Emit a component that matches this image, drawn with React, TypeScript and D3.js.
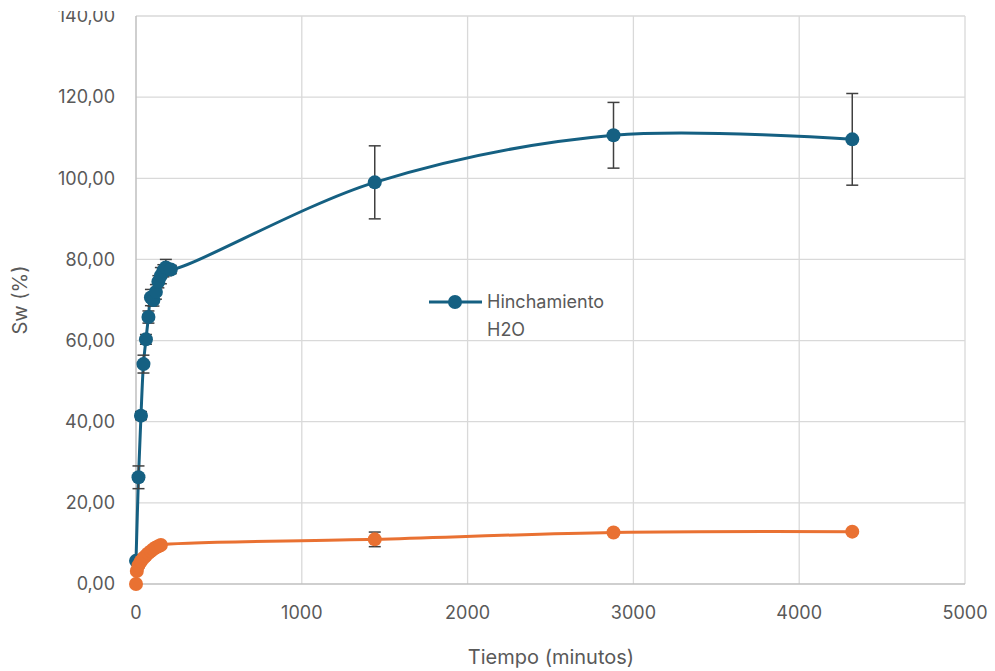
import React, { useEffect, useRef } from 'react';
import * as d3 from 'd3';

// tiempo (minutos)
const blueTime = [0, 15, 30, 45, 60, 75, 90, 105, 120, 135, 150, 165, 180, 210];
const blueTimeLong = [1440, 2880, 4320];
const blueSw = [5.7, 26.3, 41.5, 54.2, 60.3, 65.8, 70.6, 70.0, 72.0, 74.5, 76.0, 77.2, 78.0, 77.5, 99.0, 110.6, 109.6];
const blueErr = [0.5, 2.8, 1.0, 2.2, 1.2, 1.5, 2.0, 1.5, 1.8, 1.5, 2.0, 1.5, 2.0, 1.0, 9.0, 8.1, 11.3];

const orangeTime = [0, 5, 15, 30, 45, 60, 75, 90, 105, 120, 135, 150, 1440, 2880, 4320];
const orangeSw = [0, 3.2, 4.6, 5.6, 6.4, 7.0, 7.6, 8.1, 8.6, 9.0, 9.3, 9.6, 11.0, 12.7, 12.9];
const orangeErr = [0, 0.5, 0.6, 0.6, 0.7, 0.6, 0.7, 0.6, 0.6, 0.7, 0.6, 0.6, 1.8, 0.5, 0.4];

const xTicks = [0, 1000, 2000, 3000, 4000, 5000];
const yTicks = [0, 20, 40, 60, 80, 100, 120, 140];

const legendLabel = ['Hinchamiento', 'H2O'];

const BLUE = '#156082';
const ORANGE = '#E97132';
const TEXT = '#595959';
const FONT = 'Inter, "Open Sans", sans-serif';

function App() {
  const ref = useRef<SVGSVGElement>(null);

  useEffect(() => {
    document.body.style.margin = '0';
    const svg = d3.select(ref.current);
    svg.selectAll('*').remove();

    const left = 136, right = 965, top = 16, bottom = 584;
    const x = d3.scaleLinear().domain([0, 5000]).range([left, right]);
    const y = d3.scaleLinear().domain([0, 140]).range([bottom, top]);

    svg.append('rect').attr('width', 995).attr('height', 671).attr('fill', '#fff');

    // the top of the picture is cut off, as in the original
    svg.append('clipPath').attr('id', 'cut').append('rect')
      .attr('x', 0).attr('y', 11).attr('width', 995).attr('height', 660);

    // grid
    svg.append('g').selectAll('line.h').data(yTicks.slice(1)).enter().append('line')
      .attr('x1', left).attr('x2', right)
      .attr('y1', d => y(d)).attr('y2', d => y(d))
      .attr('stroke', '#d9d9d9').attr('stroke-width', 1.3);
    svg.append('g').selectAll('line.v').data(xTicks.slice(1)).enter().append('line')
      .attr('y1', top).attr('y2', bottom)
      .attr('x1', d => x(d)).attr('x2', d => x(d))
      .attr('stroke', '#d9d9d9').attr('stroke-width', 1.3);
    // axes
    svg.append('line').attr('x1', left).attr('x2', left).attr('y1', top).attr('y2', bottom)
      .attr('stroke', '#bfbfbf').attr('stroke-width', 1.5);
    svg.append('line').attr('x1', left).attr('x2', right).attr('y1', bottom).attr('y2', bottom)
      .attr('stroke', '#bfbfbf').attr('stroke-width', 1.5);

    const fmt = (v: number) => v.toFixed(2).replace('.', ',');
    svg.append('g').attr('clip-path', 'url(#cut)')
      .selectAll('text').data(yTicks).enter().append('text')
      .attr('x', 115).attr('y', d => y(d)).attr('dy', '0.35em')
      .attr('text-anchor', 'end').attr('fill', TEXT)
      .attr('font-family', FONT).attr('font-size', 18)
      .text(d => fmt(d));
    svg.append('g').selectAll('text').data(xTicks).enter().append('text')
      .attr('x', d => x(d)).attr('y', 619)
      .attr('text-anchor', 'middle').attr('fill', TEXT)
      .attr('font-family', FONT).attr('font-size', 18)
      .text(d => String(d));

    svg.append('text').attr('x', 551).attr('y', 664).attr('text-anchor', 'middle')
      .attr('fill', TEXT).attr('font-family', FONT).attr('font-size', 20)
      .text('Tiempo (minutos)');
    svg.append('text').attr('transform', 'translate(27,300) rotate(-90)')
      .attr('text-anchor', 'middle').attr('fill', TEXT)
      .attr('font-family', FONT).attr('font-size', 20)
      .text('Sw (%)');

    const series = [
      { t: blueTime.concat(blueTimeLong), v: blueSw, e: blueErr, c: BLUE },
      { t: orangeTime, v: orangeSw, e: orangeErr, c: ORANGE },
    ];

    const line = d3.line<[number, number]>()
      .x(d => x(d[0])).y(d => y(d[1]))
      .curve(d3.curveCatmullRom.alpha(0.5));

    series.forEach(s => {
      const pts: [number, number][] = s.t.map((t, i) => [t, s.v[i]]);
      const g = svg.append('g');
      g.append('path').datum(pts).attr('d', line)
        .attr('fill', 'none').attr('stroke', s.c).attr('stroke-width', 3);
      // error bars
      const eg = g.append('g').attr('stroke', '#404040').attr('stroke-width', 1.5);
      pts.forEach((p, i) => {
        const e = s.e[i];
        if (e <= 0) return;
        const cx = x(p[0]);
        eg.append('line').attr('x1', cx).attr('x2', cx).attr('y1', y(p[1] - e)).attr('y2', y(p[1] + e));
        [p[1] - e, p[1] + e].forEach(v => {
          eg.append('line').attr('x1', cx - 6).attr('x2', cx + 6).attr('y1', y(v)).attr('y2', y(v));
        });
      });
      g.selectAll('circle').data(pts).enter().append('circle')
        .attr('cx', d => x(d[0])).attr('cy', d => y(d[1])).attr('r', 7)
        .attr('fill', s.c);
    });

    // legend
    const lg = svg.append('g');
    lg.append('line').attr('x1', 429).attr('x2', 482).attr('y1', 302).attr('y2', 302)
      .attr('stroke', BLUE).attr('stroke-width', 3);
    lg.append('circle').attr('cx', 455).attr('cy', 302).attr('r', 7).attr('fill', BLUE);
    lg.selectAll('text').data(legendLabel).enter().append('text')
      .attr('x', 487).attr('y', (d, i) => 302 + i * 28).attr('dy', '0.35em')
      .attr('fill', TEXT).attr('font-family', FONT).attr('font-size', 18)
      .text(d => d);
  }, []);

  return <svg ref={ref} width={995} height={671} style={{ display: 'block' }} />;
}

export default App;
